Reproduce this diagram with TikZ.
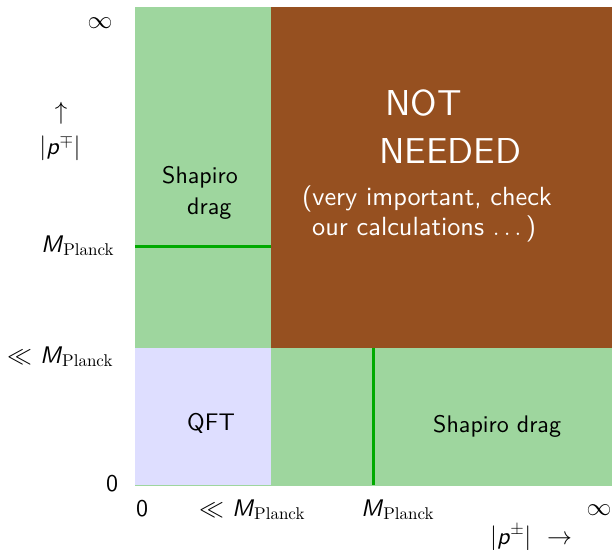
\documentclass[tikz,border=0pt]{standalone}
\usepackage{fontspec}
\setsansfont{lmsans10-regular.otf}[ItalicFont=lmsans10-oblique.otf]
\newfontfamily\rmten{lmroman10-regular.otf}
\definecolor{fillgreen}{RGB}{158,214,158}
\definecolor{regionbrown}{RGB}{150,80,32}
\definecolor{lavender}{RGB}{222,222,255}
\definecolor{linegreen}{RGB}{0,170,0}
\newcommand{\Mpl}{\textit{M}\raisebox{-3.6pt}{\fontsize{17}{17}\rmten Planck}}
\begin{document}
\begin{tikzpicture}[x=1pt,y=-1pt,
  lbl/.style={inner sep=0pt,anchor=base west,font=\sffamily\fontsize{24}{28}\selectfont},
  big/.style={inner sep=0pt,anchor=base west,text=white,font=\sffamily\fontsize{36}{42}\selectfont},
  wlbl/.style={inner sep=0pt,anchor=base west,text=white,font=\sffamily\fontsize{26.3}{30}\selectfont},
  divline/.style={draw=linegreen,line width=3pt}]
\useasboundingbox (0,0) rectangle (612,549);
% regions
\fill[fillgreen] (135,7) rectangle (612,485.5);
\fill[regionbrown] (271,7) rectangle (612,348);
\fill[lavender] (135,348) rectangle (271,484.5);
% dividing lines
\coordinate (h1) at (135,246);
\coordinate (h2) at (271,246);
\coordinate (v1) at (373.5,348);
\coordinate (v2) at (373.5,485);
\draw[divline] (h1) -- (h2);
\draw[divline] (v1) -- (v2);
% region texts
\node[lbl] (sh1) at (162,183) {Shapiro};
\node[lbl] (dr1) at (187,214) {drag};
\node[lbl] (qft) at (187,430) {QFT};
\node[lbl] (sh2) at (433,432) {Shapiro drag};
\node[big] (not) at (385,115) {NOT};
\node[big] (need) at (379,163) {NEEDED};
\node[wlbl] (vi) at (302,205) {(very important, check};
\node[wlbl] (oc) at (312,235) {our calculations $\ldots$\,)};
% axis labels
\node[lbl,anchor=center] (yinf) at (100,23) {$\infty$};
\node[lbl,anchor=center] (yarr) at (61,113) {$\uparrow$};
\node[lbl,anchor=center] (ylab) at (60,148) {$|$\textit{p}$^{\mp}|$};
\node[lbl] (ympl) at (41,252) {\Mpl};
\node[lbl] (yll) at (7,363) {$\ll$ \Mpl};
\node[lbl] (yzero) at (106,491) {0};
\node[lbl] (xzero) at (136,516) {0};
\node[lbl] (xll) at (199,516) {$\ll$ \Mpl};
\node[lbl] (xmpl) at (361,516) {\Mpl};
\node[lbl,anchor=center] (xinf) at (599,510) {$\infty$};
\node[lbl] (xlab) at (490,544) {$|$\textit{p}$^{\pm}|$\ \ $\rightarrow$};
\end{tikzpicture}
\end{document}
